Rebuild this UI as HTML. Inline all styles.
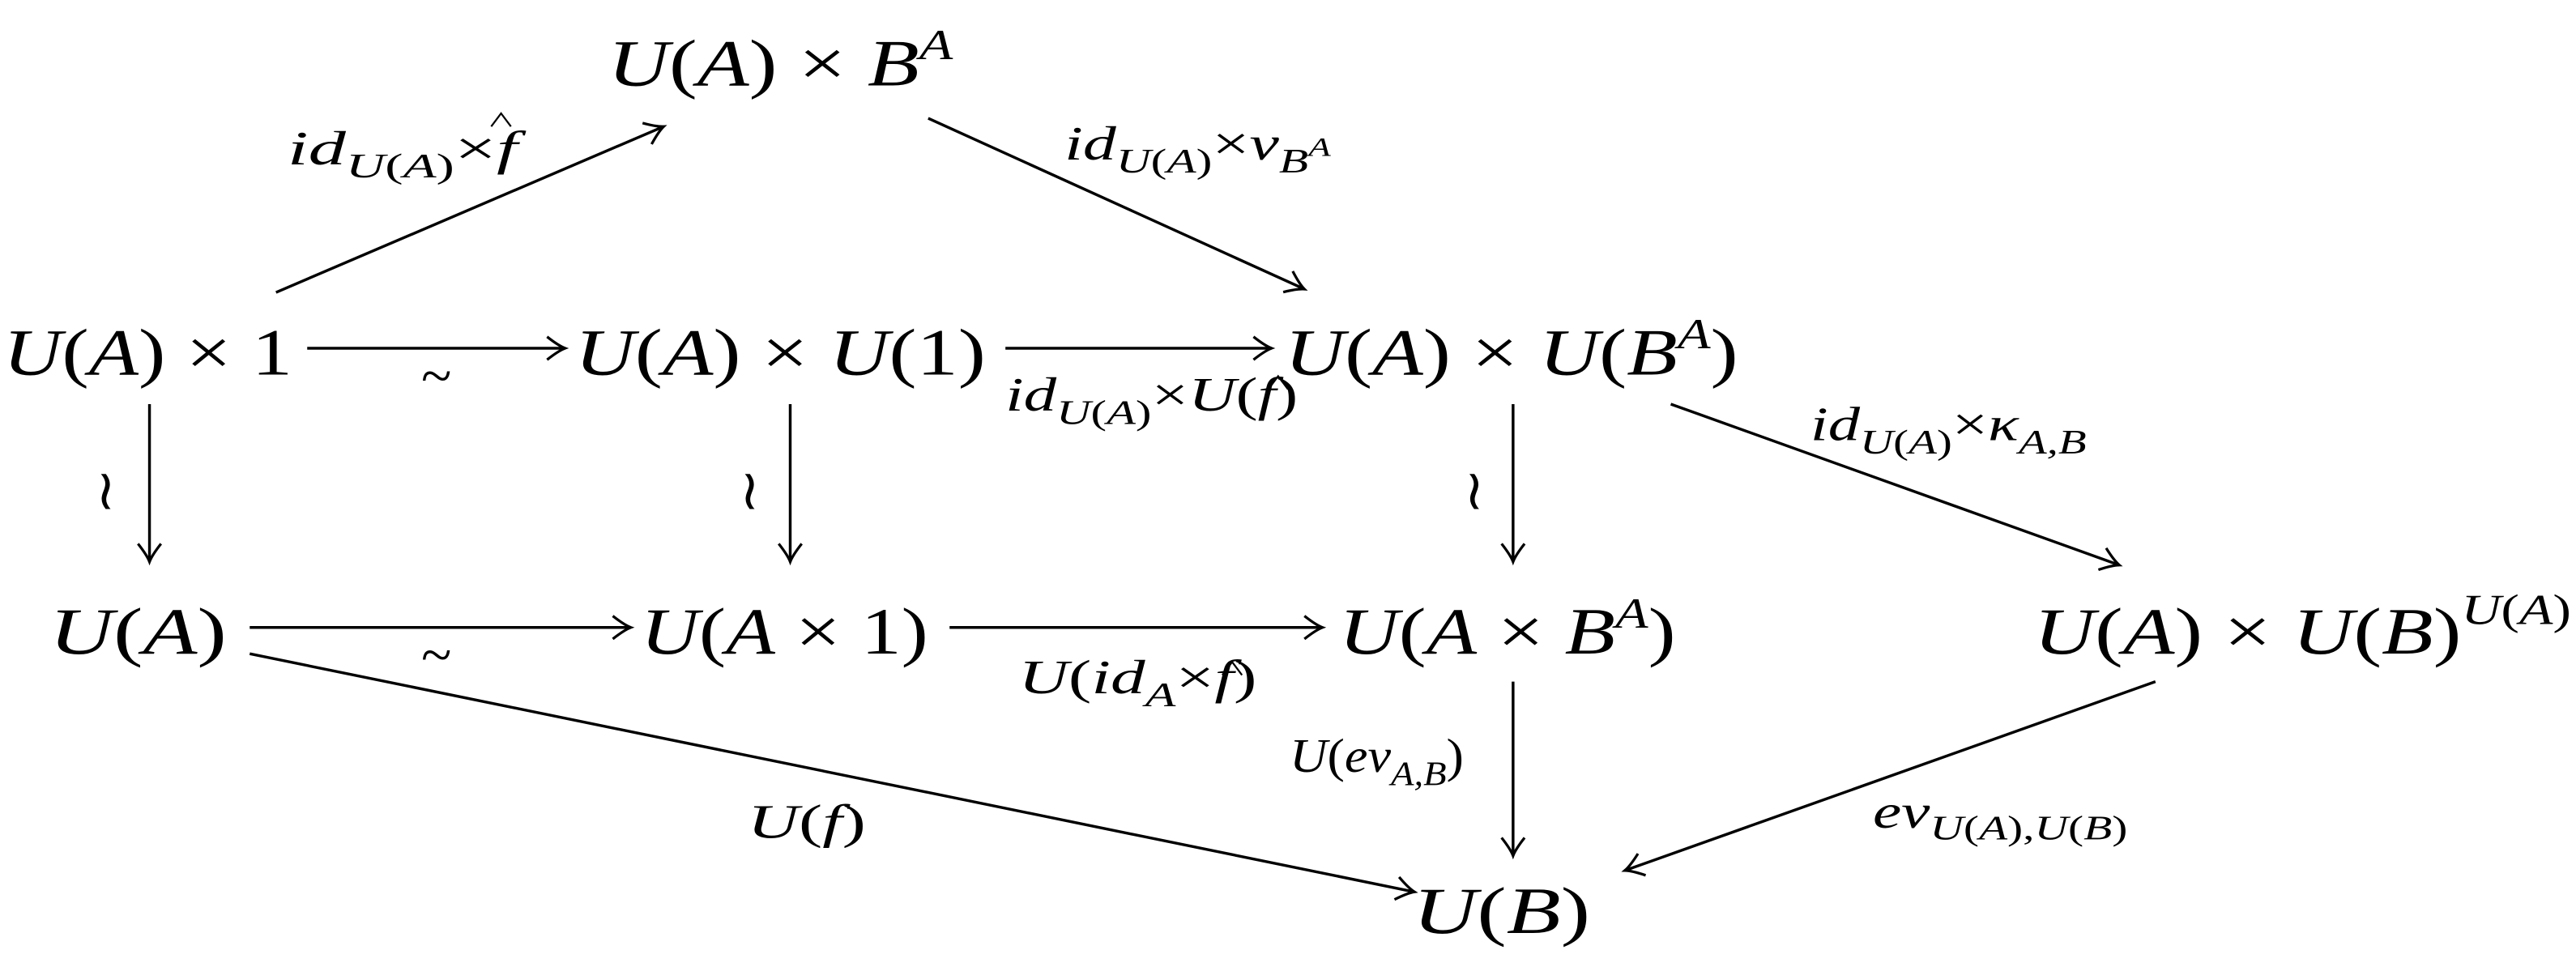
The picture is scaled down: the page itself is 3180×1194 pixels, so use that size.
<!DOCTYPE html>
<html><head><meta charset="utf-8"><style>
html,body{margin:0;padding:0;background:#fff;}
svg{display:block;}
text{font-family:"Liberation Serif",serif;fill:#000;}
.n{font-size:40px;}
.l{font-size:29px;}
.i{font-style:italic;}
</style></head><body>
<svg width="3180" height="1194" viewBox="0 0 1568 588.7" xmlns="http://www.w3.org/2000/svg">
<defs>
<marker id="h" markerWidth="20" markerHeight="20" refX="0" refY="0" viewBox="-14 -10 16 20" orient="auto" markerUnits="userSpaceOnUse">
<path d="M-11,-7 Q-4,-1.5 0,0 Q-4,1.5 -11,7" fill="none" stroke="#000" stroke-width="1.6"/>
</marker>
</defs>
<g stroke="#000" stroke-width="1.7" fill="none" marker-end="url(#h)">
<line x1="168" y1="178" x2="404" y2="77"/>
<line x1="565" y1="72" x2="794" y2="176"/>
<line x1="187" y1="212" x2="344" y2="212"/>
<line x1="612" y1="212" x2="774" y2="212"/>
<line x1="91" y1="246" x2="91" y2="342"/>
<line x1="481" y1="246" x2="481" y2="342"/>
<line x1="921" y1="246" x2="921" y2="342"/>
<line x1="1017" y1="246" x2="1290" y2="344"/>
<line x1="152" y1="382" x2="384" y2="382"/>
<line x1="578" y1="382" x2="805" y2="382"/>
<line x1="152" y1="398" x2="861" y2="543"/>
<line x1="921" y1="415" x2="921" y2="521"/>
<line x1="1312" y1="415" x2="989" y2="530"/>
</g>
<!-- hats -->
<g stroke="#000" stroke-width="1.1" fill="none">
<path d="M299,77 L305,69 L311,77"/>
<path d="M772,237 L778,229 L784,237"/>
<path d="M744,411 L750,403 L756,411"/>
</g>
<!-- nodes -->
<text class="n" x="370" y="52" textLength="210" lengthAdjust="spacingAndGlyphs"><tspan class="i">U</tspan>(<tspan class="i">A</tspan>) × <tspan class="i">B</tspan><tspan class="i" font-size="26" dy="-16">A</tspan></text>
<text class="n" x="2" y="228" textLength="176" lengthAdjust="spacingAndGlyphs"><tspan class="i">U</tspan>(<tspan class="i">A</tspan>) × 1</text>
<text class="n" x="350" y="228" textLength="250" lengthAdjust="spacingAndGlyphs"><tspan class="i">U</tspan>(<tspan class="i">A</tspan>) × <tspan class="i">U</tspan>(1)</text>
<text class="n" x="782" y="228" textLength="276" lengthAdjust="spacingAndGlyphs"><tspan class="i">U</tspan>(<tspan class="i">A</tspan>) × <tspan class="i">U</tspan>(<tspan class="i">B</tspan><tspan class="i" font-size="26" dy="-16">A</tspan><tspan dy="16">)</tspan></text>
<text class="n" x="30" y="398" textLength="108" lengthAdjust="spacingAndGlyphs"><tspan class="i">U</tspan>(<tspan class="i">A</tspan>)</text>
<text class="n" x="390" y="398" textLength="175" lengthAdjust="spacingAndGlyphs"><tspan class="i">U</tspan>(<tspan class="i">A</tspan> × 1)</text>
<text class="n" x="815" y="398" textLength="205" lengthAdjust="spacingAndGlyphs"><tspan class="i">U</tspan>(<tspan class="i">A</tspan> × <tspan class="i">B</tspan><tspan class="i" font-size="26" dy="-16">A</tspan><tspan dy="16">)</tspan></text>
<text class="n" x="1238" y="398" textLength="327" lengthAdjust="spacingAndGlyphs"><tspan class="i">U</tspan>(<tspan class="i">A</tspan>) × <tspan class="i">U</tspan>(<tspan class="i">B</tspan>)<tspan class="i" font-size="26" dy="-18">U</tspan><tspan font-size="26">(</tspan><tspan class="i" font-size="26">A</tspan><tspan font-size="26">)</tspan></text>
<text class="n" x="860" y="568" textLength="108" lengthAdjust="spacingAndGlyphs"><tspan class="i">U</tspan>(<tspan class="i">B</tspan>)</text>
<!-- labels -->
<text class="l" x="175" y="100" textLength="140" lengthAdjust="spacingAndGlyphs"><tspan class="i">id</tspan><tspan class="i" font-size="21" dy="8">U</tspan><tspan font-size="21">(</tspan><tspan class="i" font-size="21">A</tspan><tspan font-size="21">)</tspan><tspan dy="-8">×</tspan><tspan class="i">f</tspan></text>
<text class="l" x="648" y="97" textLength="162" lengthAdjust="spacingAndGlyphs"><tspan class="i">id</tspan><tspan class="i" font-size="21" dy="8">U</tspan><tspan font-size="21">(</tspan><tspan class="i" font-size="21">A</tspan><tspan font-size="21">)</tspan><tspan dy="-8">×</tspan><tspan class="i">v</tspan><tspan class="i" font-size="21" dy="8">B</tspan><tspan class="i" font-size="16" dy="-10">A</tspan></text>
<text class="i" font-size="34" x="256" y="240">~</text>
<text class="l" x="612" y="250" textLength="178" lengthAdjust="spacingAndGlyphs"><tspan class="i">id</tspan><tspan class="i" font-size="21" dy="8">U</tspan><tspan font-size="21">(</tspan><tspan class="i" font-size="21">A</tspan><tspan font-size="21">)</tspan><tspan dy="-8">×</tspan><tspan class="i">U</tspan>(<tspan class="i">f</tspan>)</text>
<text font-size="34" x="58" y="310">≀</text>
<text font-size="34" x="450" y="310">≀</text>
<text font-size="34" x="891" y="310">≀</text>
<text class="l" x="1102" y="268" textLength="168" lengthAdjust="spacingAndGlyphs"><tspan class="i">id</tspan><tspan class="i" font-size="21" dy="8">U</tspan><tspan font-size="21">(</tspan><tspan class="i" font-size="21">A</tspan><tspan font-size="21">)</tspan><tspan dy="-8">×</tspan><tspan class="i">κ</tspan><tspan class="i" font-size="21" dy="8">A,B</tspan></text>
<text class="i" font-size="34" x="256" y="410">~</text>
<text class="l" x="620" y="422" textLength="145" lengthAdjust="spacingAndGlyphs"><tspan class="i">U</tspan>(<tspan class="i">id</tspan><tspan class="i" font-size="21" dy="8">A</tspan><tspan dy="-8">×</tspan><tspan class="i">f</tspan>)</text>
<text class="l" x="455" y="510" textLength="72" lengthAdjust="spacingAndGlyphs"><tspan class="i">U</tspan>(<tspan class="i">f</tspan>)</text>
<text class="l" x="785" y="470" textLength="106" lengthAdjust="spacingAndGlyphs"><tspan class="i">U</tspan>(<tspan class="i">ev</tspan><tspan class="i" font-size="21" dy="8">A,B</tspan><tspan dy="-8">)</tspan></text>
<text class="l" x="1140" y="504" textLength="155" lengthAdjust="spacingAndGlyphs"><tspan class="i">ev</tspan><tspan class="i" font-size="21" dy="7">U</tspan><tspan font-size="21">(</tspan><tspan class="i" font-size="21">A</tspan><tspan font-size="21">),</tspan><tspan class="i" font-size="21">U</tspan><tspan font-size="21">(</tspan><tspan class="i" font-size="21">B</tspan><tspan font-size="21">)</tspan></text>
</svg>
</body></html>
